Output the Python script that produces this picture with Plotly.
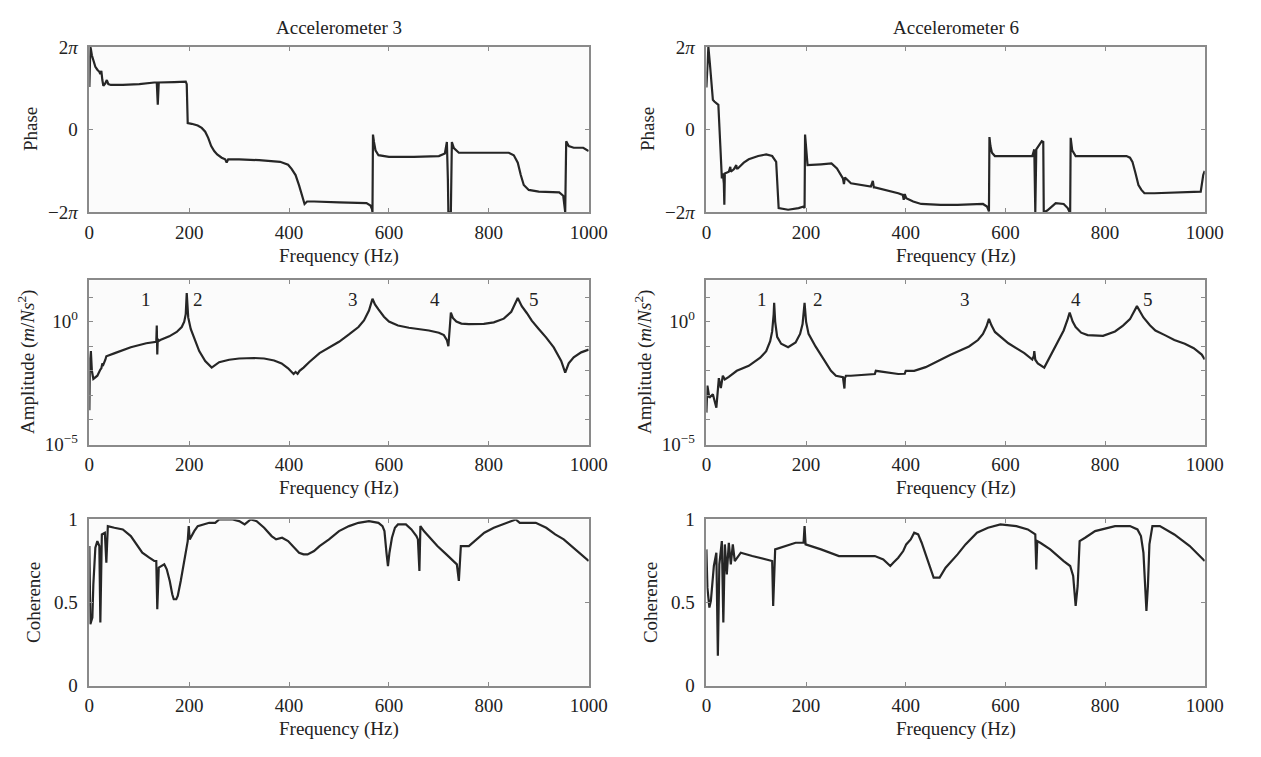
import plotly.graph_objects as go

# ---------------- data ----------------
# Phase, in multiples of pi
ph3_f = [0, 1, 2, 3, 5, 8, 12, 16, 20, 22, 24, 26, 28, 32, 35, 38, 43, 67, 100, 130, 135, 137, 139, 170, 193,
         195, 197, 205, 217, 225, 232, 238, 244, 250, 256, 265, 272, 275, 278, 300, 340, 382, 398, 405, 413, 420,
         426, 431, 436, 450, 500, 555, 563, 566, 567, 568, 570, 573, 579, 600, 650, 700, 712, 716, 718, 719, 724,
         726, 730, 740, 800, 840, 850, 858, 864, 870, 880, 900, 941, 949, 952, 953, 955, 960, 970, 989, 1000]
ph3_v = [1.03, 1.6, 2.0, 1.95, 1.8, 1.66, 1.52, 1.45, 1.4, 1.34, 1.42, 1.2, 1.06, 1.12, 1.2, 1.1, 1.08, 1.08,
         1.1, 1.14, 1.14, 0.6, 1.14, 1.15, 1.16, 1.1, 0.16, 0.14, 0.1, 0.04, -0.05, -0.2, -0.4, -0.52, -0.6, -0.68,
         -0.72, -0.8, -0.72, -0.72, -0.74, -0.78, -0.85, -0.95, -1.1, -1.35, -1.6, -1.8, -1.74, -1.74, -1.76,
         -1.78, -1.84, -1.92, -2.0, -0.12, -0.3, -0.5, -0.62, -0.66, -0.66, -0.64, -0.58, -0.3, -1.2, -2.0, -2.0,
         -0.3, -0.45, -0.56, -0.56, -0.56, -0.62, -0.8, -1.1, -1.34, -1.46, -1.5, -1.52, -1.6, -1.9, -2.0, -0.28,
         -0.4, -0.44, -0.44, -0.52]

ph6_f = [0, 2, 4, 7, 9, 11, 13, 16, 21, 24, 28, 31, 33, 35, 36, 37, 45, 48, 49, 55, 60, 61, 63, 75, 85, 104, 120,
         132, 140, 143, 145, 164, 185, 195, 197, 198, 203, 230, 251, 262, 268, 274, 276, 278, 290, 310, 330, 334,
         336, 338, 360, 385, 394, 396, 398, 401, 415, 431, 470, 504, 555, 563, 567, 568, 570, 573, 579, 654, 658,
         659, 660, 662, 663, 673, 676, 677, 684, 701, 717, 725, 729, 730, 731, 734, 741, 843, 850, 855, 861, 867,
         873, 879, 899, 950, 986, 992, 997, 1000]
ph6_v = [1.02, 1.6, 2.0, 1.6, 1.34, 0.9, 0.72, 0.68, 0.64, 0.6, -0.4, -1.18, -1.06, -1.3, -1.82, -1.06, -1.02,
         -0.9, -1.02, -0.96, -0.86, -0.94, -0.94, -0.8, -0.72, -0.64, -0.6, -0.64, -0.78, -1.5, -1.9, -1.94, -1.9,
         -1.86, -1.9, -0.12, -0.86, -0.84, -0.82, -0.94, -1.05, -1.18, -1.32, -1.16, -1.3, -1.34, -1.38, -1.24,
         -1.4, -1.4, -1.46, -1.54, -1.58, -1.7, -1.56, -1.66, -1.74, -1.8, -1.82, -1.82, -1.8, -1.86, -1.98,
         -0.18, -0.4, -0.56, -0.64, -0.64, -0.48, -2.0, -2.0, -0.48, -0.46, -0.28, -0.3, -2.0, -1.96, -1.78, -1.8,
         -1.9, -2.0, -2.0, -0.2, -0.5, -0.64, -0.64, -0.68, -0.78, -1.05, -1.34, -1.46, -1.54, -1.54, -1.52, -1.5,
         -1.5, -1.1, -1.0]

# Amplitude, log10 of m/Ns^2
amp3_f = [0, 1, 3, 5, 8, 16, 22, 24, 26, 28, 32, 34, 51, 83, 114, 134, 135, 136, 137, 138, 142, 160, 175, 185,
          190, 193, 195, 198, 203, 210, 220, 232, 245, 260, 280, 300, 330, 350, 370, 385, 398, 409, 413, 417, 421,
          429, 440, 461, 480, 500, 520, 539, 550, 560, 567, 572, 579, 590, 600, 618, 640, 660, 680, 700, 710, 716,
          719, 722, 724, 728, 735, 745, 760, 790, 810, 830, 845, 858, 866, 876, 886, 900, 915, 930, 945, 953, 960,
          970, 985, 1000]
amp3_v = [-3.6, -1.6, -1.2, -2.0, -2.33, -2.2, -1.95, -1.9, -1.7, -1.75, -1.55, -1.41, -1.28, -1.04, -0.88,
          -0.82, -0.16, -1.34, -0.7, -0.8, -0.75, -0.6, -0.42, -0.22, 0.0, 0.3, 1.16, 0.17, -0.3, -0.7, -1.2, -1.6,
          -1.87, -1.65, -1.55, -1.5, -1.48, -1.5, -1.58, -1.7, -1.9, -2.13, -2.05, -2.12, -2.0, -1.87, -1.65,
          -1.28, -1.05, -0.82, -0.52, -0.22, 0.05, 0.45, 0.93, 0.7, 0.5, 0.2, 0.0, -0.16, -0.25, -0.3, -0.36,
          -0.45, -0.55, -0.75, -1.0, -0.2, 0.37, 0.15, 0.0, -0.08, -0.1, -0.09, -0.03, 0.12, 0.4, 0.96, 0.63, 0.35,
          0.04, -0.3, -0.65, -1.05, -1.6, -2.07, -1.7, -1.45, -1.25, -1.14]

amp6_f = [0, 2, 6, 13, 20, 25, 29, 33, 37, 45, 61, 85, 108, 120, 128, 132, 135, 136, 138, 142, 150, 164, 179, 188,
          193, 197, 200, 205, 219, 235, 250, 260, 274, 277, 278, 280, 290, 338, 340, 385, 398, 400, 417, 440, 464,
          490, 527, 545, 555, 562, 567, 572, 579, 595, 606, 638, 654, 657, 658, 660, 665, 678, 685, 693, 705, 717,
          725, 729, 735, 741, 752, 765, 796, 820, 836, 850, 864, 870, 877, 890, 901, 920, 939, 960, 978, 994, 1000]
amp6_v = [-3.7, -2.6, -3.1, -2.95, -3.5, -2.3, -2.7, -2.2, -2.35, -2.25, -2.0, -1.8, -1.47, -1.2, -0.8, -0.4,
          0.3, 0.76, 0.0, -0.62, -0.9, -1.04, -0.85, -0.5, -0.1, 0.76, 0.0, -0.5, -1.01, -1.5, -2.0, -2.2, -2.26,
          -2.72, -2.3, -2.2, -2.2, -2.13, -2.0, -2.13, -2.12, -2.0, -2.0, -1.85, -1.6, -1.35, -1.01, -0.75, -0.5,
          -0.2, 0.11, -0.15, -0.42, -0.7, -0.88, -1.28, -1.54, -1.4, -1.2, -1.55, -1.7, -1.87, -1.6, -1.28, -0.85,
          -0.36, 0.1, 0.37, 0.0, -0.22, -0.45, -0.55, -0.58, -0.4, -0.16, 0.1, 0.63, 0.4, 0.17, -0.15, -0.36,
          -0.55, -0.75, -0.9, -1.08, -1.34, -1.54]

# Coherence
coh3_f = [0, 2, 6, 8, 12, 16, 20, 22, 25, 31, 34, 37, 50, 67, 83, 95, 106, 120, 130, 134, 136, 139, 145, 150, 155,
          161, 166, 169, 174, 177, 183, 189, 195, 197, 199, 201, 210, 217, 240, 252, 260, 287, 300, 311, 323, 335,
          350, 365, 374, 386, 398, 410, 420, 429, 437, 450, 461, 480, 500, 520, 539, 560, 579, 587, 591, 595, 598,
          601, 606, 612, 618, 634, 645, 655, 658, 661, 663, 670, 697, 715, 728, 736, 740, 744, 760, 775, 791, 810,
          839, 854, 862, 894, 915, 933, 950, 965, 985, 1000]
coh3_v = [0.84, 0.37, 0.41, 0.61, 0.83, 0.87, 0.84, 0.38, 0.91, 0.92, 0.74, 0.96, 0.95, 0.94, 0.90, 0.85, 0.80,
          0.77, 0.75, 0.75, 0.46, 0.71, 0.72, 0.73, 0.70, 0.63, 0.55, 0.52, 0.52, 0.54, 0.63, 0.73, 0.84, 0.87,
          0.96, 0.88, 0.93, 0.96, 0.98, 0.98, 1.0, 1.0, 0.99, 0.97, 1.0, 0.99, 0.95, 0.90, 0.88, 0.89, 0.87, 0.83,
          0.80, 0.79, 0.79, 0.81, 0.84, 0.88, 0.93, 0.96, 0.98, 0.99, 0.98, 0.96, 0.93, 0.80, 0.72, 0.80, 0.89,
          0.95, 0.97, 0.97, 0.94, 0.90, 0.88, 0.69, 0.96, 0.93, 0.84, 0.79, 0.75, 0.73, 0.63, 0.84, 0.84, 0.88,
          0.92, 0.95, 0.98, 1.0, 0.98, 0.98, 0.95, 0.91, 0.88, 0.84, 0.79, 0.75]

coh6_f = [0, 2, 6, 9, 15, 20, 23, 26, 31, 34, 37, 41, 45, 49, 53, 57, 69, 92, 132, 134, 138, 148, 179, 195, 197,
          199, 230, 266, 300, 322, 338, 355, 369, 375, 385, 395, 401, 410, 417, 425, 432, 440, 450, 456, 468, 480,
          504, 520, 543, 565, 590, 622, 645, 660, 662, 664, 670, 690, 717, 730, 736, 741, 745, 749, 760, 780, 820,
          850, 865, 872, 877, 881, 883, 886, 889, 895, 910, 939, 970, 1000]
coh6_v = [0.82, 0.59, 0.47, 0.51, 0.72, 0.80, 0.18, 0.73, 0.87, 0.38, 0.85, 0.67, 0.86, 0.73, 0.85, 0.75, 0.80,
          0.78, 0.75, 0.48, 0.82, 0.83, 0.86, 0.86, 0.96, 0.85, 0.82, 0.78, 0.78, 0.78, 0.78, 0.76, 0.72, 0.74,
          0.77, 0.81, 0.85, 0.88, 0.92, 0.91, 0.86, 0.79, 0.70, 0.65, 0.65, 0.71, 0.79, 0.85, 0.92, 0.95, 0.97,
          0.96, 0.94, 0.91, 0.70, 0.87, 0.86, 0.82, 0.75, 0.72, 0.66, 0.48, 0.60, 0.87, 0.89, 0.93, 0.96, 0.96,
          0.94, 0.90, 0.80, 0.60, 0.45, 0.60, 0.85, 0.96, 0.96, 0.91, 0.84, 0.75]

peak_labels = ["1", "2", "3", "4", "5"]
peak3_f = [114, 217, 528, 693, 890]
peak6_f = [112, 223, 519, 741, 887]
peak_lab_log = 0.89

titles = ["Accelerometer 3", "Accelerometer 6"]
xlabel = "Frequency (Hz)"

# ---------------- layout ----------------
W, H = 1261, 757
FONT = "Liberation Serif"
FS = 19
LINE = "#262626"
FRAME = "#8a8a8a"

colx = [(86, 595), (715, 1223)]
rowy = [(38, 208), (278, 447), (524, 695)]

def dom_x(c):
    return [colx[c][0] / W, colx[c][1] / W]

def dom_y(r):
    return [1 - rowy[r][1] / H, 1 - rowy[r][0] / H]

fig = go.Figure()

series = [
    (0, 0, ph3_f, ph3_v), (0, 1, ph6_f, ph6_v),
    (1, 0, amp3_f, [10 ** v for v in amp3_v]), (1, 1, amp6_f, [10 ** v for v in amp6_v]),
    (2, 0, coh3_f, coh3_v), (2, 1, coh6_f, coh6_v),
]

TF = dict(family=FONT, size=FS, color="#222")
ax_common = dict(showline=True, mirror="ticks", linecolor=FRAME, linewidth=1.5, ticks="inside", ticklen=4,
                 tickcolor=FRAME, showgrid=False, zeroline=False, tickfont=TF)

for i, (r, c, fx, fy) in enumerate(series):
    idx = i + 1
    xa = "x" if idx == 1 else f"x{idx}"
    ya = "y" if idx == 1 else f"y{idx}"
    fig.add_trace(go.Scatter(x=fx, y=fy, mode="lines", line=dict(color=LINE, width=2.2),
                             xaxis=xa, yaxis=ya, showlegend=False, hoverinfo="skip"))
    xkey = "xaxis" if idx == 1 else f"xaxis{idx}"
    ykey = "yaxis" if idx == 1 else f"yaxis{idx}"
    fig.layout[xkey] = dict(domain=dom_x(c), anchor=ya, range=[0, 1000], ticklabelstandoff=2,
                            tickvals=[0, 200, 400, 600, 800, 1000], **ax_common)
    if r == 0:
        yax = dict(range=[-2, 2], tickvals=[-2, 0, 2],
                   ticktext=["\u22122<i>\u03c0</i>", "0", "2<i>\u03c0</i>"])
    elif r == 1:
        yax = dict(type="log", range=[-5, 1.68], tickvals=[1e-5, 1e-4, 1e-3, 1e-2, 1e-1, 1, 10],
                   ticktext=["10<sup>\u22125</sup>", "", "", "", "", "10<sup>0</sup>", ""])
    else:
        yax = dict(range=[0, 1], tickvals=[0, 0.5, 1], ticktext=["0", "0.5", "1"])
    fig.layout[ykey] = dict(domain=dom_y(r), anchor=xa, ticklabelstandoff=6, **yax, **ax_common)

annotations = []
# column titles
for c in range(2):
    annotations.append(dict(text=titles[c], x=(colx[c][0] + colx[c][1]) / 2 / W, y=1 - 18 / H,
                            xref="paper", yref="paper", xanchor="center", yanchor="middle",
                            showarrow=False, font=TF))
# x-axis titles
for r in range(3):
    for c in range(2):
        annotations.append(dict(text=xlabel, x=(colx[c][0] + colx[c][1]) / 2 / W,
                                y=1 - (rowy[r][1] + 45) / H, xref="paper", yref="paper",
                                xanchor="center", yanchor="middle", showarrow=False, font=TF))
# y-axis titles
ytitles = ["Phase", "Amplitude (<i>m</i>/<i>Ns</i><sup>2</sup>)", "Coherence"]
yt_off = [60, 64, 57]
for r in range(3):
    for c in range(2):
        annotations.append(dict(text=ytitles[r], x=(colx[c][0] - yt_off[r]) / W,
                                y=1 - (rowy[r][0] + rowy[r][1]) / 2 / H, xref="paper", yref="paper",
                                xanchor="center", yanchor="middle",
                                textangle=-90, showarrow=False, font=TF))
# peak labels
for c, pf in enumerate([peak3_f, peak6_f]):
    xa = "x3" if c == 0 else "x4"
    ya = "y3" if c == 0 else "y4"
    for lab, f in zip(peak_labels, pf):
        annotations.append(dict(text=lab, x=f, y=peak_lab_log, xref=xa, yref=ya, showarrow=False,
                                xanchor="center", yanchor="middle", font=TF))

fig.update_layout(width=W, height=H, margin=dict(l=0, r=0, t=0, b=0),
                  paper_bgcolor="white", plot_bgcolor="#fbfbfb",
                  annotations=annotations, font=TF)

fig.write_html("out.html")
